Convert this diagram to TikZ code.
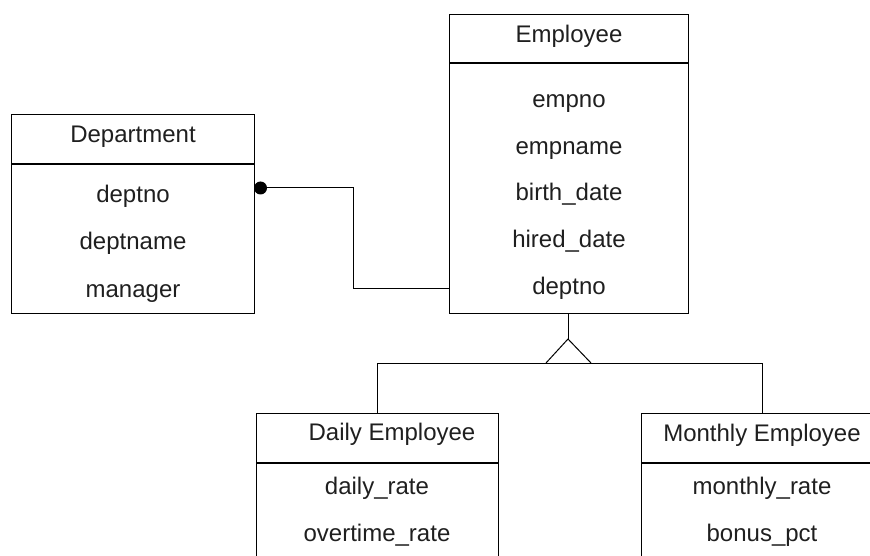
\documentclass[tikz,border=0pt]{standalone}
\usepackage{fontspec}
\setmainfont{Liberation Sans}
\begin{document}
\begin{tikzpicture}[x=1pt,y=-1pt,
  box/.style={draw, line width=1.3pt, rectangle, anchor=north west, inner sep=0pt},
  hdr/.style={line width=1.3pt},
  txt/.style={anchor=base, inner sep=0pt, text=black!88, font=\fontsize{24}{28}\selectfont},
  conn/.style={line width=1pt}]
\useasboundingbox (0,0) rectangle (870,556);
\clip (0,0) rectangle (870,556);

% Department
\node[box, minimum width=243pt, minimum height=199pt] (dept) at (11,114) {};
\draw[hdr] (dept.west |- 0,164) -- (dept.east |- 0,164);
\node[txt] (deptT) at (133,143) {Department};
\node[txt] (d1) at (133,203) {deptno};
\node[txt] (d2) at (133,250) {deptname};
\node[txt] (d3) at (133,297) {manager};

% Employee
\node[box, minimum width=239pt, minimum height=299pt] (emp) at (449,14) {};
\draw[hdr] (emp.west |- 0,63) -- (emp.east |- 0,63);
\node[txt] (empT) at (569,43) {Employee};
\node[txt] (e1) at (569,108) {empno};
\node[txt] (e2) at (569,154.5) {empname};
\node[txt] (e3) at (569,201) {birth\_date};
\node[txt] (e4) at (569,247.5) {hired\_date};
\node[txt] (e5) at (569,294) {deptno};

% Daily Employee
\node[box, minimum width=242pt, minimum height=200pt] (daily) at (256,413) {};
\draw[hdr] (daily.west |- 0,463) -- (daily.east |- 0,463);
\node[txt] (dailyT) at (392,440) {Daily Employee};
\node[txt] (da1) at (377,494) {daily\_rate};
\node[txt] (da2) at (377,541) {overtime\_rate};

% Monthly Employee
\node[box, minimum width=242pt, minimum height=200pt] (monthly) at (641,413) {};
\draw[hdr] (monthly.west |- 0,463) -- (monthly.east |- 0,463);
\node[txt] (monthlyT) at (762,441) {Monthly Employee};
\node[txt] (mo1) at (762,494) {monthly\_rate};
\node[txt] (mo2) at (762,541) {bonus\_pct};

% Department -- Employee association
\coordinate (dp) at (254,188);
\coordinate (ep) at (449,288);
\draw[conn] (dp) -- (353,188) |- (ep);
\fill (260.5,188) circle (6.5pt);

% Generalization
\coordinate (apex) at (568,339);
\coordinate (tl) at (546,363);
\coordinate (tr) at (591,363);
\draw[conn] (emp.south -| apex) -- (apex);
\draw[conn] (tl) -- (apex) -- (tr);
\draw[conn] (daily.north) |- (monthly.north |- 0,363) -- (monthly.north);
\end{tikzpicture}
\end{document}
